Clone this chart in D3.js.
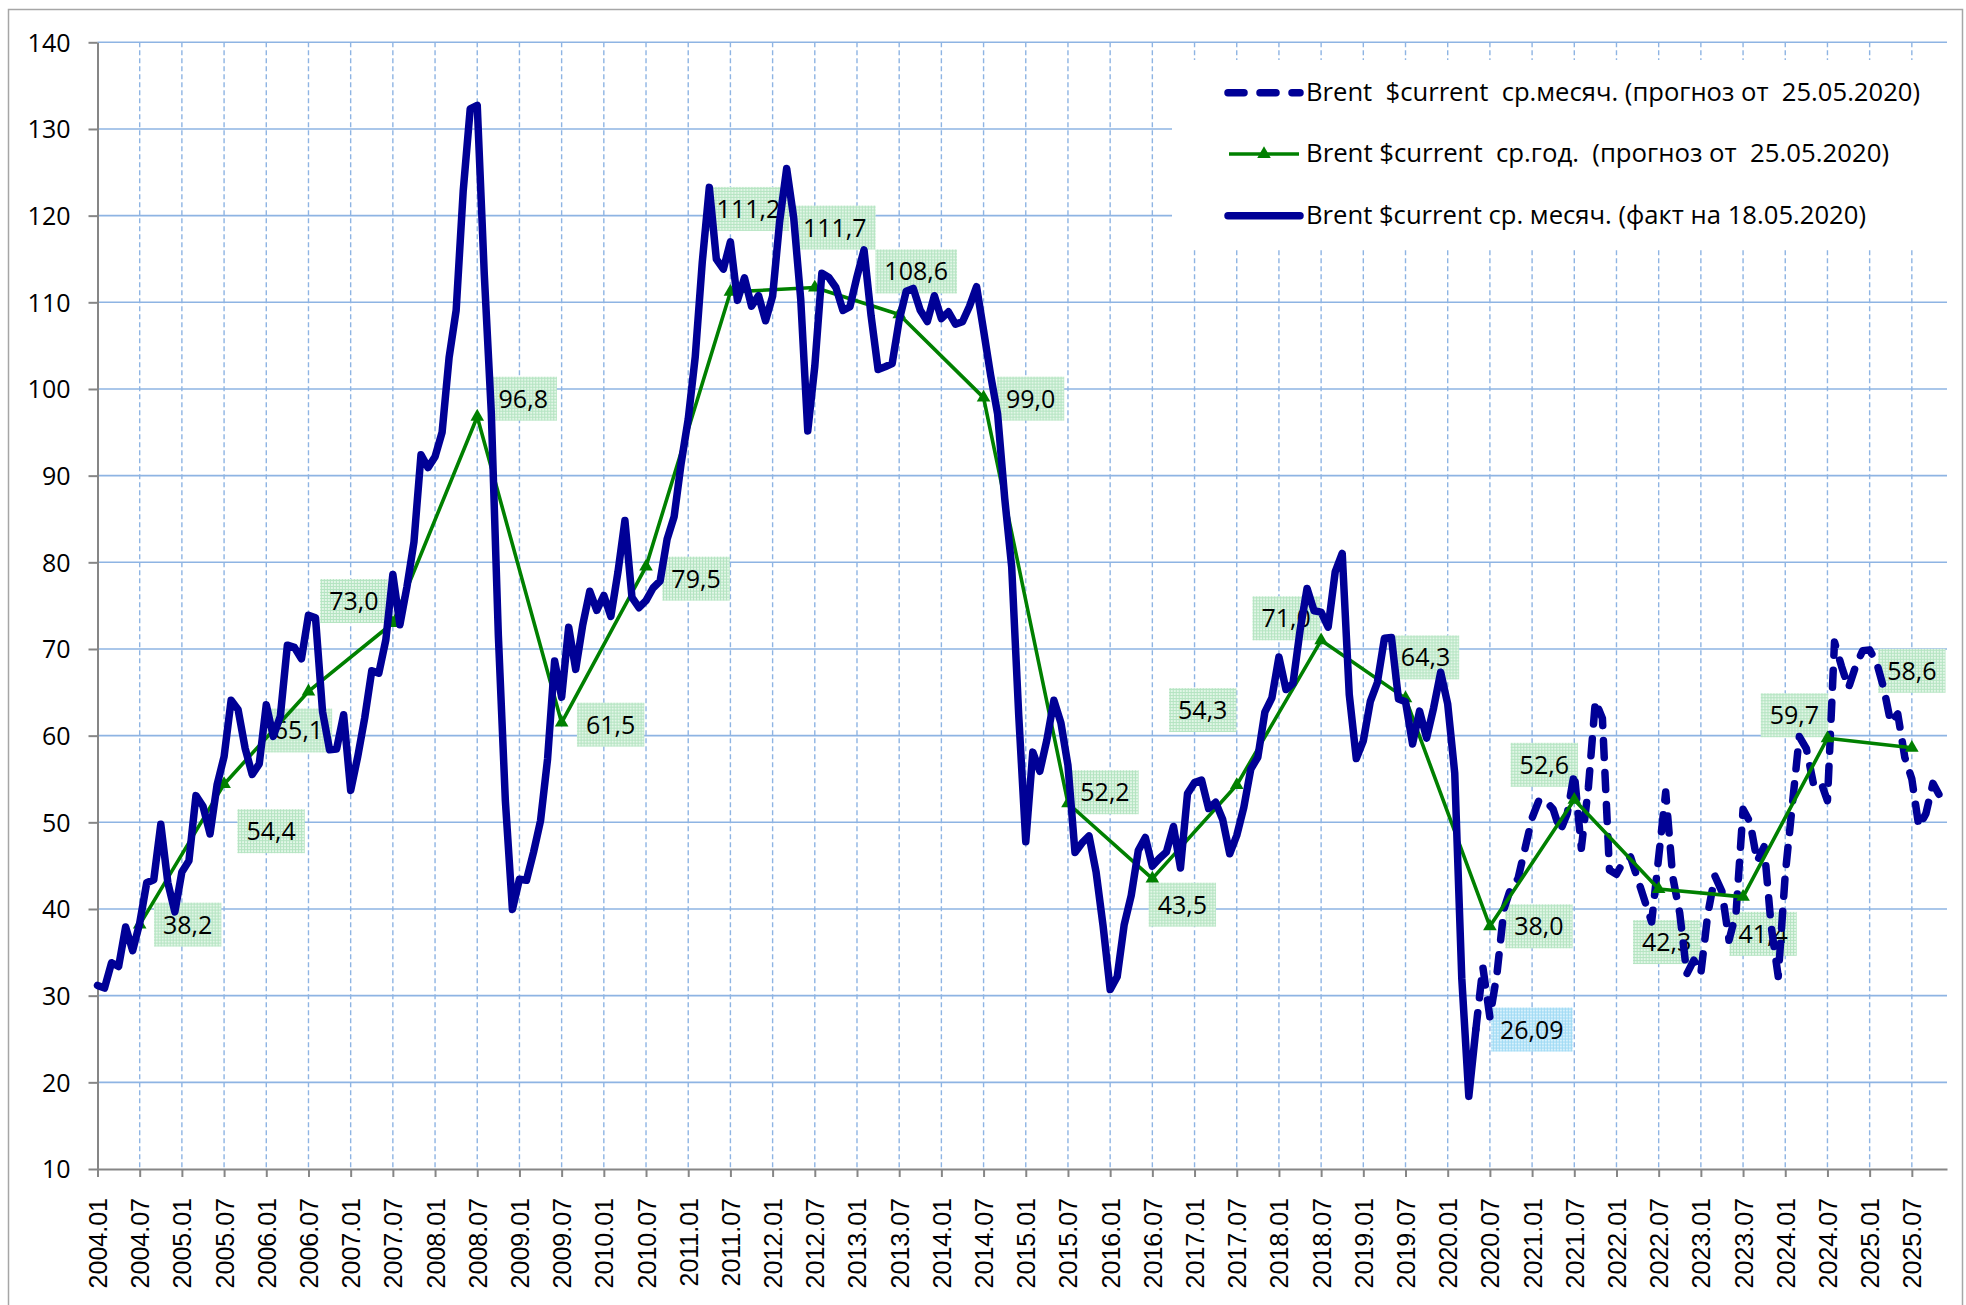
<!DOCTYPE html>
<html><head><meta charset="utf-8">
<script src="https://cdn.jsdelivr.net/npm/d3@7"></script>
<style>body{margin:0;background:#fff} svg{display:block}</style>
</head><body>
<svg id="chart" width="1966" height="1305"></svg>
<script>
// ---------- DATA ----------
const years = ["2004","2005","2006","2007","2008","2009","2010","2011","2012","2013","2014","2015","2016","2017","2018","2019","2020","2021","2022","2023","2024","2025"];
const months = ["01","02","03","04","05","06","07","08","09","10","11","12"];
const categories = years.flatMap(yr => months.map(m => yr + "." + m));
const tickLabels = categories.filter((d, i) => i % 6 === 0);
const yTicks = [10,20,30,40,50,60,70,80,90,100,110,120,130,140];

// Brent monthly average, fact (2004.01 .. 2020.05)
const actualMonthly = [
  31.18,30.87,33.80,33.36,37.92,35.19,38.37,43.03,43.38,49.77,43.05,39.66,
  44.28,45.56,53.08,51.86,48.67,54.31,57.58,64.09,62.98,58.52,55.53,56.75,
  63.57,59.92,62.25,70.44,70.19,68.86,73.90,73.61,62.77,58.38,58.46,62.42,
  53.68,57.56,62.05,67.49,67.21,71.05,78.6,72.8,77.17,82.34,92.41,90.93,
  92.18,94.99,103.64,109.07,122.80,132.32,132.72,113.24,97.23,71.58,52.45,39.95,
  43.44,43.32,46.54,50.18,57.30,68.61,64.44,72.51,67.65,72.77,76.66,74.46,
  76.17,73.75,78.83,84.82,75.95,74.76,75.58,77.04,77.84,82.67,85.28,91.45,
  96.52,103.72,114.64,123.26,114.99,113.83,116.97,110.22,112.83,109.55,110.77,107.87,
  110.69,119.33,125.45,119.75,110.34,95.16,102.62,113.36,112.86,111.71,109.06,109.49,
  112.96,116.05,108.47,102.25,102.56,102.92,107.93,111.28,111.60,109.08,107.79,110.76,
  108.12,108.90,107.48,107.76,109.54,111.80,106.77,101.61,97.09,87.43,79.44,62.34,
  47.76,58.10,55.89,59.52,64.08,61.48,56.56,46.52,47.62,48.43,44.27,38.01,
  30.70,32.18,38.21,41.58,46.74,48.25,44.95,45.84,46.57,49.52,44.73,53.31,
  54.58,54.87,51.59,52.31,50.33,46.37,48.48,51.70,56.15,57.51,62.71,64.37,
  69.08,65.32,66.02,72.11,76.98,74.41,74.25,72.53,78.89,81.03,64.75,57.36,
  59.41,63.96,66.14,71.23,71.32,64.22,63.92,59.04,62.83,59.71,63.21,67.31,
  63.65,55.66,32.01,18.38,26.09
];
const actualLastLabel = "26,09";

// Brent monthly forecast (2020.05 .. 2025.11)
const forecastStart = "2020.05";
const forecastMonthly = [
  26.09,33.3,27.5,32.5,40.0,42.5,43.5,47.0,
  50.5,52.6,52.4,51.5,49.0,51.0,55.7,47.0,54.0,64.0,62.0,44.5,
  44.0,45.5,46.0,43.5,41.0,38.5,46.0,53.5,43.7,39.5,32.5,34.1,
  32.6,39.5,43.8,42.0,36.4,39.5,51.5,50.0,45.5,47.2,38.0,32.2,
  44.0,52.0,59.9,58.5,54.5,54.8,52.5,70.8,68.0,65.5,68.0,69.8,
  69.9,68.4,65.5,61.5,62.5,57.5,55.0,49.5,51.0,54.5,53.0
];

// Brent yearly average (plotted at July of each year)
const annualCats = years.map(yr => yr + ".07");
const annualAvg = [38.2,54.4,65.1,73.0,96.8,61.5,79.5,111.2,111.7,108.6,99.0,52.2,43.5,54.3,71.0,64.3,38.0,52.6,42.3,41.4,59.7,58.6];

const legendLabels = [
  "Brent  $current  ср.месяч. (прогноз от  25.05.2020)",
  "Brent $current  ср.год.  (прогноз от  25.05.2020)",
  "Brent $current ср. месяч. (факт на 18.05.2020)"
];

// label placement (layout only): offset of label centre from its point
const annualLabelOffsets = [[48,0],[47,47],[-10,39],[-39,-22],[46,-18],[49,2],[50,12],[18,-83],[20,-60],[17,-43],[47,1],[37,-11],[30,26],[-34,-75],[-35,-22],[20,-41],[49,0],[-30,-35],[8,53],[20,37],[-33,-23],[0,-77]];
const actualLabelOffset = [56,0];

// ---------- LAYOUT ----------
const M = {left: 97.5, right: 1947, top: 42.3, bottom: 1169};
const BLUE = "#000096", GREEN = "#008000", GRID = "#8eb4e3", AXIS = "#868686";
const FONT = "'Open Sans','Noto Sans',sans-serif";
const XFONT = "'Liberation Sans',Arial,sans-serif";

const svg = d3.select("#chart");
const x = d3.scalePoint().domain(categories).range([M.left, M.right]);
const y = d3.scaleLinear().domain([10, 140]).range([M.bottom, M.top]);

const defs = svg.append("defs");
function pattern(id, base, dot) {
  const p = defs.append("pattern").attr("id", id).attr("width", 3).attr("height", 3).attr("patternUnits", "userSpaceOnUse");
  p.append("rect").attr("width", 3).attr("height", 3).attr("fill", base);
  p.append("rect").attr("width", 3).attr("height", 1).attr("fill", dot);
  p.append("rect").attr("width", 1).attr("height", 3).attr("fill", dot);
}
pattern("pGreen", "#e2f6e7", "#b4e4c1");
pattern("pBlue", "#d9f1fc", "#9fdaf4");

// outer border
svg.append("rect").attr("x", 8.5).attr("y", 9.5).attr("width", 1954).attr("height", 1330)
  .attr("fill", "none").attr("stroke", "#a6a6a6").attr("stroke-width", 1.5);

// gridlines
svg.append("g").selectAll("line").data(yTicks.filter(v => v > 10)).join("line")
  .attr("x1", M.left).attr("x2", M.right).attr("y1", d => y(d)).attr("y2", d => y(d))
  .attr("stroke", GRID).attr("stroke-width", 1.6);
svg.append("g").selectAll("line").data(tickLabels.slice(1)).join("line")
  .attr("x1", d => x(d)).attr("x2", d => x(d)).attr("y1", M.top).attr("y2", M.bottom)
  .attr("stroke", GRID).attr("stroke-width", 1.4).attr("stroke-dasharray", "5,3");

// legend background
svg.append("rect").attr("x", 1172).attr("y", 60).attr("width", M.right - 1172).attr("height", 189).attr("fill", "#fff");

// axes
const gx = svg.append("g").attr("transform", `translate(0,${M.bottom})`)
  .call(d3.axisBottom(x).tickValues(tickLabels).tickSize(8).tickSizeOuter(0));
gx.select(".domain").attr("stroke", AXIS).attr("stroke-width", 2);
gx.selectAll(".tick line").attr("stroke", AXIS).attr("stroke-width", 2);
gx.selectAll(".tick text").attr("transform", "rotate(-90)").attr("x", -29).attr("y", 0).attr("dy", "0.36em")
  .attr("text-anchor", "end").attr("fill", "#000").style("font-family", XFONT).style("font-size", "25px");

const gy = svg.append("g").attr("transform", `translate(${M.left},0)`)
  .call(d3.axisLeft(y).tickValues(yTicks).tickSize(9).tickPadding(18).tickSizeOuter(0));
gy.select(".domain").attr("stroke", AXIS).attr("stroke-width", 2);
gy.selectAll(".tick line").attr("stroke", AXIS).attr("stroke-width", 2);
gy.selectAll(".tick text").attr("fill", "#000").attr("dy", "0.35em").style("font-family", FONT).style("font-size", "25px");

// data labels (drawn beneath the lines)
const fmt = v => v.toFixed(1).replace(".", ",");
const labelData = annualCats.map((c, i) => ({
  cx: x(c) + annualLabelOffsets[i][0], cy: y(annualAvg[i]) + annualLabelOffsets[i][1],
  text: fmt(annualAvg[i]), fill: "url(#pGreen)"
}));
const lastCat = categories[actualMonthly.length - 1];
labelData.push({
  cx: x(lastCat) + actualLabelOffset[0], cy: y(actualMonthly[actualMonthly.length - 1]) + actualLabelOffset[1],
  text: actualLastLabel, fill: "url(#pBlue)"
});
const lg = svg.append("g").selectAll("g").data(labelData).join("g")
  .attr("transform", d => `translate(${d.cx},${d.cy})`);
lg.append("rect").attr("fill", d => d.fill);
lg.append("text").attr("text-anchor", "middle").attr("dy", "0.36em")
  .style("font-family", FONT).style("font-size", "25px").attr("fill", "#000").text(d => d.text);
lg.each(function() {
  const g = d3.select(this);
  const w = g.select("text").node().getComputedTextLength() + 18;
  g.select("rect").attr("x", -w / 2).attr("y", -22).attr("width", w).attr("height", 44);
});

// series
const line = d3.line().x(d => x(d.c)).y(d => y(d.v));
const fIdx = categories.indexOf(forecastStart);
const forecastPts = forecastMonthly.map((v, i) => ({c: categories[fIdx + i], v}));
const actualPts = actualMonthly.map((v, i) => ({c: categories[i], v}));
const annualPts = annualAvg.map((v, i) => ({c: annualCats[i], v}));

svg.append("path").datum(forecastPts).attr("d", line).attr("fill", "none")
  .attr("stroke", BLUE).attr("stroke-width", 7.5).attr("stroke-dasharray", "17,15")
  .attr("stroke-linecap", "round").attr("stroke-linejoin", "round");

svg.append("path").datum(annualPts).attr("d", line).attr("fill", "none")
  .attr("stroke", GREEN).attr("stroke-width", 3.6).attr("stroke-linejoin", "round");
const tri = d3.symbol().type(d3.symbolTriangle).size(80);
svg.append("g").selectAll("path").data(annualPts).join("path")
  .attr("transform", d => `translate(${x(d.c)},${y(d.v)})`).attr("d", tri).attr("fill", GREEN);

svg.append("path").datum(actualPts).attr("d", line).attr("fill", "none")
  .attr("stroke", BLUE).attr("stroke-width", 7.5)
  .attr("stroke-linecap", "round").attr("stroke-linejoin", "round");

// legend
const legY = [92.7, 154, 215.7];
const leg = svg.append("g");
leg.append("line").attr("x1", 1228).attr("x2", 1300).attr("y1", legY[0]).attr("y2", legY[0])
  .attr("stroke", BLUE).attr("stroke-width", 7.5).attr("stroke-dasharray", "16,16").attr("stroke-linecap", "round");
leg.append("line").attr("x1", 1229).attr("x2", 1299).attr("y1", legY[1]).attr("y2", legY[1])
  .attr("stroke", GREEN).attr("stroke-width", 3.6);
leg.append("path").attr("transform", `translate(1264,${legY[1]})`).attr("d", tri).attr("fill", GREEN);
leg.append("line").attr("x1", 1228).attr("x2", 1300).attr("y1", legY[2]).attr("y2", legY[2])
  .attr("stroke", BLUE).attr("stroke-width", 7.5).attr("stroke-linecap", "round");
const legWidths = [614, 583, 560];
leg.selectAll("text").data(legendLabels).join("text")
  .attr("x", 1306).attr("y", (d, i) => legY[i] + 8)
  .attr("xml:space", "preserve").style("white-space", "pre")
  .attr("textLength", (d, i) => legWidths[i]).attr("lengthAdjust", "spacingAndGlyphs")
  .style("font-family", FONT).style("font-size", "25px").attr("fill", "#000").text(d => d);
</script>
</body></html>
